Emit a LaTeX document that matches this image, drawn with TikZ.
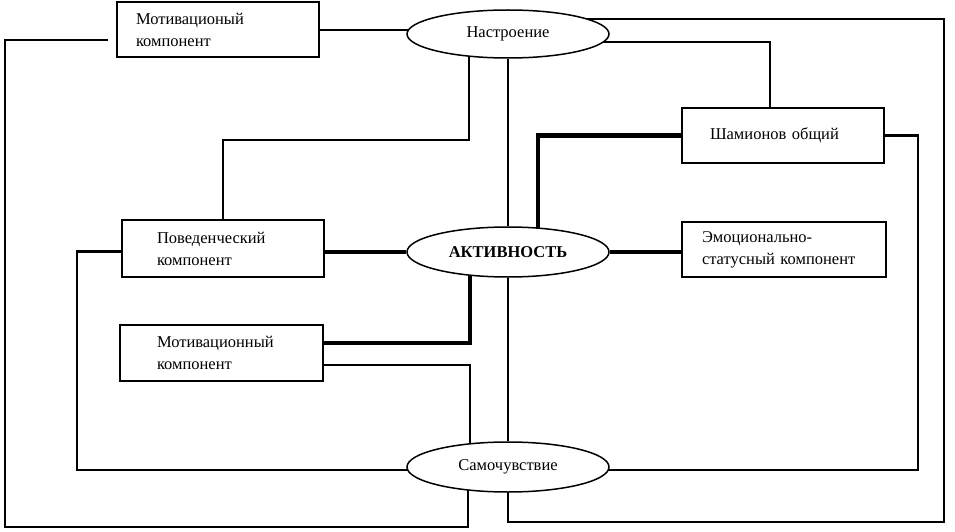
\documentclass[tikz,border=0pt]{standalone}
\usepackage{fontspec}
\setmainfont{Liberation Serif}
\usetikzlibrary{shapes.geometric}
\usetikzlibrary{backgrounds}

\begin{document}
\begin{tikzpicture}[x=1pt,y=-1pt,
  font=\fontsize{16.5}{22}\selectfont,
  box/.style={draw, line width=2pt, fill=white, align=left, minimum height=55pt, inner ysep=0pt},
  oval/.style={draw, ellipse, line width=1.5pt, fill=white, minimum width=202pt, minimum height=48pt, inner sep=0pt},
  conn/.style={line width=2pt},
  connm/.style={line width=2.6pt},
  connb/.style={line width=4.5pt}]
\useasboundingbox (0,0) rectangle (955,532);
\node[box, text width=164pt, inner xsep=19pt] (motivA) at (218,30) {Мотивационый\\компонент};
\node[oval] (mood) at (508,34) {Настроение};
\node[box, text width=146pt, inner xsep=28pt] (shamion) at (783,135.5) {Шамионов общий};
\node[box, text width=132pt, inner xsep=35pt, minimum height=57pt] (behav) at (223,248.5) {Поведенческий\\компонент};
\node[oval, minimum height=50pt] (activ) at (508,252) {\textbf{АКТИВНОСТЬ}};
\node[box, text width=164pt, inner xsep=20pt] (emot) at (784,249.5) {Эмоционально-\\статусный компонент};
\node[box, text width=129pt, inner xsep=37pt, minimum height=56pt] (motivB) at (221.5,353) {Мотивационный\\компонент};
\node[oval, minimum height=50pt] (health) at (508,467) {Самочувствие};
% connectors behind the nodes
\begin{scope}[on background layer]
\draw[conn, shorten <=8pt] ([yshift=-10pt]motivA.west) -| (5,527) -| ([xshift=-40pt]health.center);
\draw[connm] (motivA.east) -- (motivA.east -| mood.center);
\draw[conn] ([xshift=-39pt]mood.center) |- (222,140) -| (behav.north);
\draw[connm] ([yshift=-8pt]mood.center) -| ([xshift=-13pt]shamion.north);
\draw[connm] ([yshift=15pt]mood.center) -| (944,522) -| (health.center);
\draw[conn] (mood) -- (activ) -- (health);
\draw[connb] (shamion.west) -| ([xshift=30pt]activ.center);
\draw[connm] (shamion.east) -| (918,470) -| (health.center);
\draw[connb] (activ -| behav.east) -- (activ) -- (activ -| emot.west);
\draw[connb] ([xshift=-38pt]activ.center) |- ([yshift=10pt]motivB.east);
\draw[conn] ([yshift=-12pt]motivB.east) -| ([xshift=-38pt]health.center);
\draw[connm] ([yshift=-3pt]behav.west) -| (77,470) -| (health.center);
\end{scope}
\end{tikzpicture}
\end{document}
